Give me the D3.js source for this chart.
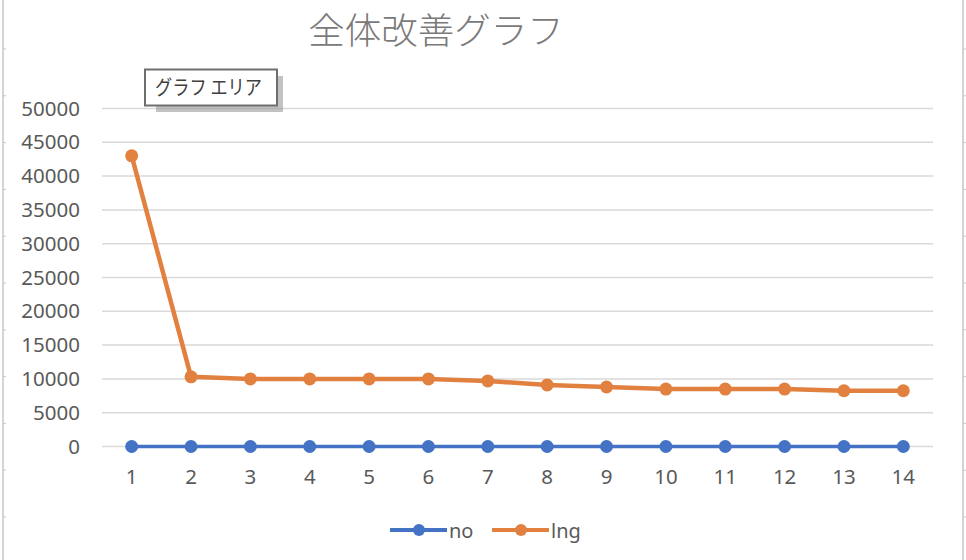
<!DOCTYPE html>
<html><head><meta charset="utf-8">
<script src="https://cdn.jsdelivr.net/npm/d3@7"></script>
<style>
html,body{margin:0;padding:0;background:#fff;}
svg{display:block;}
</style></head>
<body>
<svg id="chart" width="966" height="560"></svg>
<script>
const categories = [1,2,3,4,5,6,7,8,9,10,11,12,13,14];
const noValues  = [0,0,0,0,0,0,0,0,0,0,0,0,0,0];
const lngValues = [43000,10300,10000,10000,10000,10000,9700,9100,8800,8500,8500,8500,8250,8250];
const yTicks = [0,5000,10000,15000,20000,25000,30000,35000,40000,45000,50000];
const seriesNames = ["no","lng"];
const titleText = "全体改善グラフ";
const tipText = "グラフ エリア";

const svg = d3.select("#chart");
const W = 966, H = 560;
const plot = {left:102, right:933, top:108.5, bottom:446.5};
const colors = {no:"#4472c4", lng:"#e2803f"};
const textCol = "#595959";
const font = "'Noto Sans','Noto Sans CJK JP',sans-serif";

// sheet edges
const edgeTicks = d3.range(49, H, 46.8);
[3, 963].forEach(xx => {
  svg.append("line").attr("x1",xx).attr("x2",xx).attr("y1",0).attr("y2",H)
    .attr("stroke","#d4d4d4").attr("stroke-width",2);
  svg.selectAll(null).data(edgeTicks).enter().append("line")
    .attr("x1",xx).attr("x2",xx+3).attr("y1",d=>d).attr("y2",d=>d)
    .attr("stroke","#c8c8c8").attr("stroke-width",1);
});

const x = d3.scaleBand().domain(categories).range([plot.left, plot.right]);
const y = d3.scaleLinear().domain([0,50000]).range([plot.bottom, plot.top]);
const cx = d => x(d) + x.bandwidth()/2;

// gridlines
svg.append("g").selectAll("line").data(yTicks).enter().append("line")
  .attr("x1",plot.left).attr("x2",plot.right)
  .attr("y1",d=>y(d)).attr("y2",d=>y(d))
  .attr("stroke","#d9d9d9").attr("stroke-width",1.5);

// y axis labels
const yAxis = d3.axisLeft(y).tickValues(yTicks).tickSize(0).tickPadding(0).tickFormat(d3.format("d"));
const gy = svg.append("g").attr("transform",`translate(80,0)`).call(yAxis);
gy.select(".domain").remove();
gy.selectAll("text").attr("fill",textCol).style("font-family",font).style("font-size","20.5px");

// x axis labels
const xAxis = d3.axisBottom(x).tickSize(0).tickPadding(0);
const gx = svg.append("g").attr("transform",`translate(0,${plot.bottom+23})`).call(xAxis);
gx.select(".domain").remove();
gx.selectAll("text").attr("fill",textCol).style("font-family",font).style("font-size","20.5px");

// series
const series = [
  {name:"no", values:noValues, w:3.5},
  {name:"lng", values:lngValues, w:4.5}
];
const line = d3.line().x((d,i)=>cx(categories[i])).y(d=>y(d));
series.forEach(s => {
  svg.append("path").datum(s.values).attr("d",line)
    .attr("fill","none").attr("stroke",colors[s.name]).attr("stroke-width",s.w)
    .attr("stroke-linejoin","round").attr("stroke-linecap","round");
  svg.append("g").selectAll("circle").data(s.values).enter().append("circle")
    .attr("cx",(d,i)=>cx(categories[i])).attr("cy",d=>y(d)).attr("r",6.5)
    .attr("fill",colors[s.name]);
});

// title
svg.append("text").attr("x",436).attr("y",28).attr("text-anchor","middle")
  .attr("dominant-baseline","central")
  .attr("fill","#7a7a7a").style("font-family","'Noto Sans CJK JP',sans-serif")
  .style("font-size","36.5px").style("font-weight","300").text(titleText);

// tooltip box
svg.append("rect").attr("x",156).attr("y",76).attr("width",127).attr("height",36)
  .attr("fill","#8f8f8f").attr("opacity",0.55);
svg.append("rect").attr("x",145).attr("y",69.5).attr("width",132).attr("height",36)
  .attr("fill","#fff").attr("stroke","#6e6e6e").attr("stroke-width",2);
svg.append("text").attr("x",155).attr("y",86).attr("dominant-baseline","central")
  .attr("fill","#404040").style("font-family","'Noto Sans CJK JP',sans-serif")
  .style("font-size","20px").attr("textLength",107).attr("lengthAdjust","spacingAndGlyphs")
  .text(tipText);

// legend
const legend = [
  {name:"no", x0:390},
  {name:"lng", x0:492}
];
legend.forEach(l => {
  const g = svg.append("g");
  g.append("line").attr("x1",l.x0).attr("x2",l.x0+57).attr("y1",530).attr("y2",530)
    .attr("stroke",colors[l.name]).attr("stroke-width",4);
  g.append("circle").attr("cx",l.x0+29).attr("cy",530).attr("r",6).attr("fill",colors[l.name]);
  g.append("text").attr("x",l.x0+59).attr("y",530).attr("dominant-baseline","central")
    .attr("fill",textCol).style("font-family",font).style("font-size","20px").text(l.name);
});
</script>
</body></html>
